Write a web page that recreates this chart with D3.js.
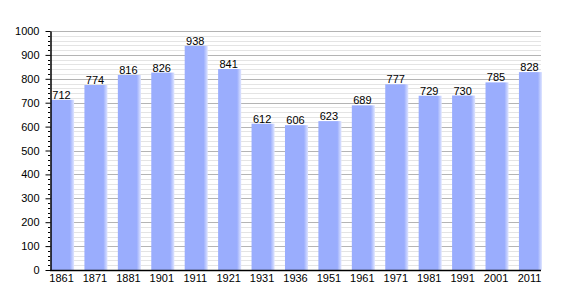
<!DOCTYPE html>
<html lang="en">
<head>
<meta charset="utf-8">
<script src="https://d3js.org/d3.v7.min.js"></script>
<style>
  body { margin: 0; background: #fff; }
  .chart text { font: 11px "Liberation Sans", Arial, sans-serif; fill: #000; }
</style>
</head>
<body>
<svg class="chart"></svg>
<script>
var width = 570,
    height = 300;

var years = ["1861", "1871", "1881", "1901", "1911", "1921", "1931", "1936",
             "1951", "1961", "1971", "1981", "1991", "2001", "2011"];
var population = [712, 774, 816, 826, 938, 841, 612, 606, 623, 689, 777, 729, 730, 785, 828];
var yTicks = [0, 100, 200, 300, 400, 500, 600, 700, 800, 900, 1000];

var plotLeft = 50, plotRight = 541, plotTop = 31, plotBottom = 270;

var svg = d3.select(".chart")
    .attr("width", width)
    .attr("height", height);

// bar fill: flat blue, soft edge on the right
var grad = svg.append("defs").append("linearGradient")
    .attr("id", "barfill")
    .attr("x1", "0").attr("x2", "1").attr("y1", "0").attr("y2", "0");
grad.append("stop").attr("offset", "0%").attr("stop-color", "#9aadfd");
grad.append("stop").attr("offset", "82%").attr("stop-color", "#9aadfd");
grad.append("stop").attr("offset", "100%").attr("stop-color", "#dfe5ff");

var x = d3.scaleBand()
    .domain(years)
    .range([plotLeft + 1, plotRight - 1])
    .paddingInner(0.37)
    .paddingOuter(0);

var y = d3.scaleLinear()
    .domain([0, 1000])
    .range([plotBottom, plotTop]);

// grid: minor every 20, major every 100
var minor = d3.range(20, 1001, 20).filter(function(d) { return d % 100 !== 0; });
svg.append("g").selectAll("line")
    .data(minor)
  .enter().append("line")
    .attr("x1", plotLeft).attr("x2", plotRight)
    .attr("y1", function(d) { return Math.round(y(d)) + 0.5; })
    .attr("y2", function(d) { return Math.round(y(d)) + 0.5; })
    .attr("stroke", "#e4e4e4");

svg.append("g").selectAll("line")
    .data(yTicks.slice(1))
  .enter().append("line")
    .attr("x1", plotLeft).attr("x2", plotRight)
    .attr("y1", function(d) { return Math.round(y(d)) + 0.5; })
    .attr("y2", function(d) { return Math.round(y(d)) + 0.5; })
    .attr("stroke", "#b4b4b4");

// bars
svg.append("g").selectAll("rect")
    .data(population)
  .enter().append("rect")
    .attr("x", function(d, i) { return x(years[i]); })
    .attr("y", function(d) { return y(d); })
    .attr("width", x.bandwidth() + 2)
    .attr("height", function(d) { return plotBottom - y(d); })
    .attr("fill", "url(#barfill)");

// value labels
svg.append("g").selectAll("text")
    .data(population)
  .enter().append("text")
    .attr("x", function(d, i) { return x(years[i]) + x.bandwidth() / 2; })
    .attr("y", function(d) { return y(d) - 1; })
    .attr("text-anchor", "middle")
    .text(function(d) { return d; });

// y axis with minor ticks
var yAxis = svg.append("g")
    .attr("transform", "translate(" + (plotLeft + 0.5) + ",0)")
    .call(d3.axisLeft(y).tickValues(yTicks).tickFormat(d3.format("d"))
      .tickSize(5).tickPadding(6).tickSizeOuter(0));
yAxis.selectAll("line").attr("stroke", "#000");
yAxis.select(".domain").attr("stroke", "#000").attr("stroke-width", 1.5);
yAxis.selectAll("text").attr("font-family", null).attr("font-size", null);

svg.append("g").selectAll("line")
    .data(minor)
  .enter().append("line")
    .attr("x1", plotLeft - 2).attr("x2", plotLeft)
    .attr("y1", function(d) { return Math.round(y(d)) + 0.5; })
    .attr("y2", function(d) { return Math.round(y(d)) + 0.5; })
    .attr("stroke", "#000");

// x axis
var xAxis = svg.append("g")
    .attr("transform", "translate(0," + (plotBottom + 0.5) + ")")
    .call(d3.axisBottom(x).tickSize(0).tickPadding(4).tickSizeOuter(0));
xAxis.select(".domain").attr("stroke", "#000").attr("stroke-width", 1.5)
    .attr("d", "M" + plotLeft + ",0H" + plotRight);
xAxis.selectAll("text").attr("font-family", null).attr("font-size", null);
</script>
</body>
</html>
